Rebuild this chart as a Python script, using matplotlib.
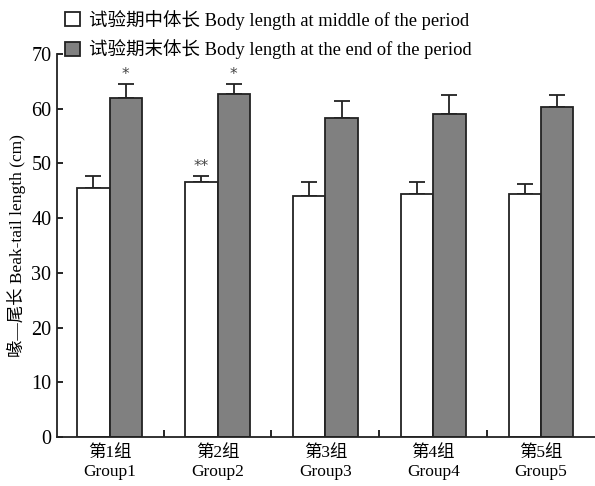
import matplotlib
matplotlib.use("Agg")
import matplotlib.pyplot as plt
from matplotlib.patches import Patch
import numpy as np

plt.rcParams['font.family'] = ['Liberation Serif', 'Noto Sans CJK SC']

groups = ["第1组\nGroup1", "第2组\nGroup2", "第3组\nGroup3", "第4组\nGroup4", "第5组\nGroup5"]
middle = [45.6, 46.7, 44.1, 44.5, 44.5]
middle_err = [2.1, 1.0, 2.6, 2.2, 1.7]
end = [61.9, 62.7, 58.3, 59.0, 60.4]
end_err = [2.6, 1.8, 3.2, 3.6, 2.2]
mid_marks = ["", "**", "", "", ""]
end_marks = ["*", "*", "", "", ""]
legend_labels = ["试验期中体长 Body length at middle of the period",
                 "试验期末体长 Body length at the end of the period"]
ylabel = "喙—尾长 Beak-tail length (cm)"

fig = plt.figure(figsize=(5.95, 4.86), dpi=100)
ax = fig.add_axes([0.0955, 0.1008, 0.9045, 0.788])

x = np.arange(len(groups))
w = 0.3
ax.bar(x - w/2, middle, w, color="white", edgecolor="#222222", linewidth=1.3, zorder=2)
ax.bar(x + w/2, end, w, color="#808080", edgecolor="#222222", linewidth=1.3, zorder=2)
ax.errorbar(x - w/2, middle, yerr=[np.zeros(len(middle)), middle_err], fmt="none",
            ecolor="#222222", elinewidth=1.3, capsize=6, capthick=1.3, zorder=1)
ax.errorbar(x + w/2, end, yerr=[np.zeros(len(end)), end_err], fmt="none",
            ecolor="#222222", elinewidth=1.3, capsize=6, capthick=1.3, zorder=1)
for i in range(len(groups)):
    if mid_marks[i]:
        ax.text(x[i] - w/2, middle[i] + middle_err[i] + 0.4, mid_marks[i], ha="center",
                va="bottom", fontsize=11, color="#444444", family="DejaVu Sans")
    if end_marks[i]:
        ax.text(x[i] + w/2, end[i] + end_err[i] + 0.4, end_marks[i], ha="center",
                va="bottom", fontsize=11, color="#444444", family="DejaVu Sans")

ax.set_xlim(-0.49, 4.5)
ax.set_ylim(0, 70)
ax.set_yticks(range(0, 71, 10))
ax.tick_params(axis="y", direction="in", length=4, width=1.2, labelsize=14.5, pad=4)
ax.set_xticks(x[:-1] + 0.5, minor=False)
ax.set_xticklabels([])
ax.tick_params(axis="x", direction="in", length=5, width=1.2)
ax.set_xticks(x, minor=True)
ax.set_xticklabels(groups, minor=True, fontsize=12.5, linespacing=1.25)
ax.tick_params(axis="x", which="minor", length=0, pad=6)
for s in ["top", "right"]:
    ax.spines[s].set_visible(False)
for s in ["left", "bottom"]:
    ax.spines[s].set_linewidth(1.3)
    ax.spines[s].set_color("#222222")
ax.set_ylabel(ylabel, fontsize=12.5, labelpad=4)

handles = [Patch(facecolor="white", edgecolor="#222222", linewidth=1.3),
           Patch(facecolor="#808080", edgecolor="#222222", linewidth=1.3)]
fig.legend(handles, legend_labels, loc="upper left", bbox_to_anchor=(0.097, 0.995),
           frameon=False, fontsize=13.3, handlelength=0.8, handleheight=0.8,
           handletextpad=0.5, labelspacing=0.5, borderaxespad=0)

fig.savefig("out.png", dpi=100)
